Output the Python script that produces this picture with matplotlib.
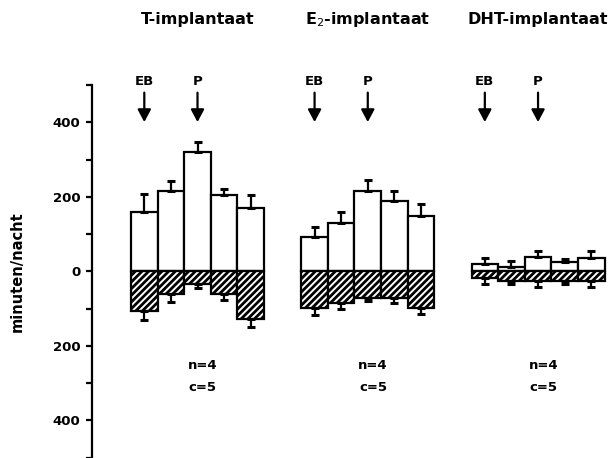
import matplotlib
matplotlib.use("Agg")
import matplotlib.pyplot as plt
import numpy as np

# ---- data ----
groups = ["T-implantaat", "E$_2$-implantaat", "DHT-implantaat"]
T_pos = [158, 215, 320, 206, 171]
T_pos_err = [50, 28, 27, 16, 35]
T_neg = [-107, -62, -34, -62, -129]
T_neg_err = [24, 20, 12, 14, 22]
E2_pos = [93, 129, 215, 188, 147]
E2_pos_err = [25, 29, 29, 27, 33]
E2_neg = [-98, -85, -71, -71, -98]
E2_neg_err = [19, 15, 8, 13, 18]
DHT_pos = [20, 12, 37, 25, 36]
DHT_pos_err = [15, 15, 18, 7, 19]
DHT_neg = [-18, -25, -25, -25, -25]
DHT_neg_err = [16, 9, 18, 9, 18]
ytick_vals = [-500, -400, -300, -200, -100, 0, 100, 200, 300, 400, 500]
ytick_labels = ["", "400", "", "200", "", "0", "", "200", "", "400", ""]
annot_n = "n=4"
annot_c = "c=5"

pos_data = [T_pos, E2_pos, DHT_pos]
pos_err = [T_pos_err, E2_pos_err, DHT_pos_err]
neg_data = [T_neg, E2_neg, DHT_neg]
neg_err = [T_neg_err, E2_neg_err, DHT_neg_err]

plt.rcParams['hatch.linewidth'] = 2.0
plt.rcParams['font.family'] = 'DejaVu Sans'

fig = plt.figure(figsize=(6.12, 4.58), dpi=100)
ax = fig.add_axes([92/612, 0.5/458, 520/612, 372.5/458])
ax.set_xlim(-1.966, 17.58)
ax.set_ylim(-500, 500)

group_step = 6.4
lw = 1.6
for g in range(3):
    x = np.arange(5) + g * group_step
    ax.bar(x, pos_data[g], width=1.0, facecolor='white', edgecolor='black',
           linewidth=lw, zorder=2)
    ax.bar(x, neg_data[g], width=1.0, facecolor='white', edgecolor='black',
           hatch='/////', linewidth=lw, zorder=2)
    ax.errorbar(x, pos_data[g], yerr=[np.zeros(5), pos_err[g]], fmt='none',
                ecolor='black', elinewidth=1.6, capsize=3.2, capthick=2.2, zorder=3)
    ax.errorbar(x, neg_data[g], yerr=[neg_err[g], np.zeros(5)], fmt='none',
                ecolor='black', elinewidth=1.6, capsize=3.2, capthick=2.2, zorder=3)
    cx = x.mean()
    ax.text(cx, 675, groups[g], ha='center', va='center', fontsize=11.5,
            fontweight='bold', clip_on=False)
    ax.text(cx + 0.2, -253, annot_n, ha='center', va='center', fontsize=9.5,
            fontweight='bold')
    ax.text(cx + 0.2, -311, annot_c, ha='center', va='center', fontsize=9.5,
            fontweight='bold')
    for xi, lab in [(x[0], "EB"), (x[2], "P")]:
        ax.annotate("", xy=(xi, 393), xytext=(xi, 487),
                    arrowprops=dict(arrowstyle='-|>,head_width=0.4,head_length=0.75',
                                    color='black', lw=1.6),
                    annotation_clip=False)
        ax.text(xi, 510, lab, ha='center', va='center', fontsize=9.5,
                fontweight='bold', clip_on=False)

for s in ['top', 'right', 'bottom']:
    ax.spines[s].set_visible(False)
ax.spines['left'].set_linewidth(1.6)
ax.set_xticks([])
ax.set_yticks(ytick_vals)
ax.set_yticklabels(ytick_labels, fontsize=9.5, fontweight='bold')
ax.tick_params(axis='y', direction='out', length=4.5, width=1.6, pad=4)
ax.set_ylabel("minuten/nacht", fontsize=10.5, fontweight='bold', labelpad=20)

fig.savefig("out.png", dpi=100)
